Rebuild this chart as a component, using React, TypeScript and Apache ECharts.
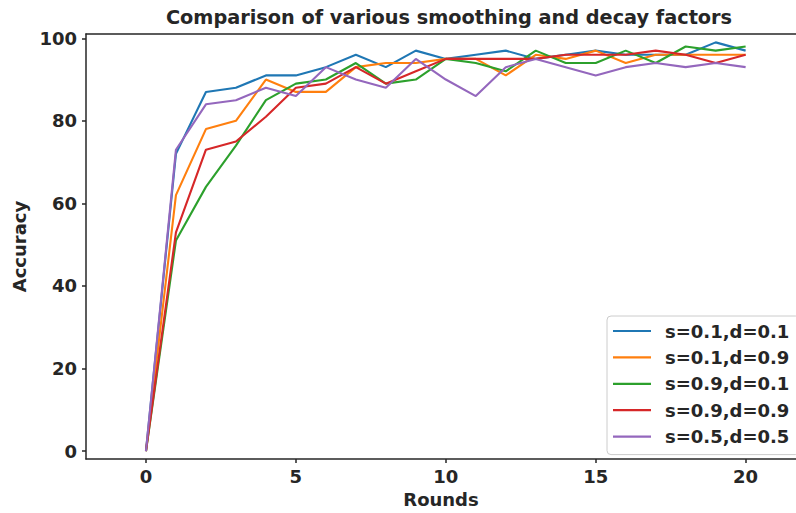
import React, { useEffect, useRef } from "react";
import * as echarts from "echarts";

const rounds = [0, 1, 2, 3, 4, 5, 6, 7, 8, 9, 10, 11, 12, 13, 14, 15, 16, 17, 18, 19, 20];
const seriesNames = ["s=0.1,d=0.1", "s=0.1,d=0.9", "s=0.9,d=0.1", "s=0.9,d=0.9", "s=0.5,d=0.5"];
const s01d01 = [0, 72, 87, 88, 91, 91, 93, 96, 93, 97, 95, 96, 97, 95, 96, 97, 96, 96, 96, 99, 97];
const s01d09 = [0, 62, 78, 80, 90, 87, 87, 93, 94, 94, 95, 95, 91, 96, 95, 97, 94, 96, 96, 96, 96];
const s09d01 = [0, 51, 64, 74, 85, 89, 90, 94, 89, 90, 95, 94, 92, 97, 94, 94, 97, 94, 98, 97, 98];
const s09d09 = [0, 53, 73, 75, 81, 88, 89, 93, 89, 92, 95, 95, 95, 95, 96, 96, 96, 97, 96, 94, 96];
const s05d05 = [0, 73, 84, 85, 88, 86, 93, 90, 88, 95, 90, 86, 93, 95, 93, 91, 93, 94, 93, 94, 93];
const xTicks = [0, 5, 10, 15, 20];
const yTicks = [0, 20, 40, 60, 80, 100];
const colors = ["#1f77b4", "#ff7f0e", "#2ca02c", "#d62728", "#9467bd"];

const FONT = "DejaVu Sans";
const INK = "#262626";
const X_MIN = -2;
const X_MAX = 21.68;

export default function App() {
  const ref = useRef<HTMLDivElement>(null);
  useEffect(() => {
    if (!ref.current) return;
    const chart = echarts.init(ref.current, null, { renderer: "svg" });
    const all = [s01d01, s01d09, s09d01, s09d09, s05d05];
    chart.setOption({
      animation: false,
      backgroundColor: "#ffffff",
      title: {
        text: "Comparison of various smoothing and decay factors",
        left: 444,
        top: 3,
        textAlign: "center",
        textStyle: { fontFamily: FONT, fontWeight: "bold", fontSize: 19.3, color: INK },
      },
      grid: {
        left: 86,
        top: 34,
        bottom: 50,
        right: 0,
        show: false,
      },
      legend: {
        orient: "vertical",
        left: 607,
        top: 316,
        icon: "rect",
        itemWidth: 38,
        itemHeight: 2.2,
        itemGap: 6.4,
        padding: [5, 10, 8, 6],
        backgroundColor: "#ffffff",
        borderColor: "#cccccc",
        borderWidth: 1,
        borderRadius: 4,
        textStyle: {
          fontFamily: FONT,
          fontWeight: "bold",
          fontSize: 18,
          color: INK,
          lineHeight: 20,
          padding: [0, 0, 0, 9],
        },
        data: seriesNames,
      },
      xAxis: [
        {
          type: "value",
          min: X_MIN,
          max: X_MAX,
          position: "bottom",
          name: "Rounds",
          nameLocation: "middle",
          nameGap: 31,
          nameTextStyle: { fontFamily: FONT, fontWeight: "bold", fontSize: 18, color: INK },
          axisLine: { show: true, onZero: false, lineStyle: { color: INK, width: 1.5 } },
          axisTick: { show: true, length: 4, lineStyle: { color: INK, width: 1.5 }, customValues: xTicks },
          axisLabel: {
            fontFamily: FONT,
            fontWeight: "bold",
            fontSize: 18,
            color: INK,
            margin: 8,
            customValues: xTicks,
          },
          splitLine: { show: false },
        },
        {
          type: "value",
          min: X_MIN,
          max: X_MAX,
          position: "top",
          axisLine: { show: true, onZero: false, lineStyle: { color: INK, width: 1.5 } },
          axisTick: { show: false },
          axisLabel: { show: false },
          splitLine: { show: false },
        },
      ],
      yAxis: {
        type: "value",
        min: -1.92,
        max: 101.03,
        name: "Accuracy",
        nameLocation: "middle",
        nameGap: 54,
        nameTextStyle: { fontFamily: FONT, fontWeight: "bold", fontSize: 18, color: INK },
        axisLine: { show: true, onZero: false, lineStyle: { color: INK, width: 1.5 } },
        axisTick: { show: true, length: 4, lineStyle: { color: INK, width: 1.5 }, customValues: yTicks },
        axisLabel: {
          fontFamily: FONT,
          fontWeight: "bold",
          fontSize: 18,
          color: INK,
          margin: 9,
          customValues: yTicks,
        },
        splitLine: { show: false },
      },
      series: all.map((vals, i) => ({
        name: seriesNames[i],
        type: "line",
        xAxisIndex: 0,
        data: rounds.map((r, j) => [r, vals[j]]),
        showSymbol: false,
        symbol: "none",
        lineStyle: { color: colors[i], width: 2.1 },
        itemStyle: { color: colors[i] },
        z: 2 + i,
      })),
    });
    return () => chart.dispose();
  }, []);
  return (
    <div
      ref={ref}
      style={{ position: "fixed", left: 0, top: 0, width: 796, height: 513, background: "#fff" }}
    />
  );
}
